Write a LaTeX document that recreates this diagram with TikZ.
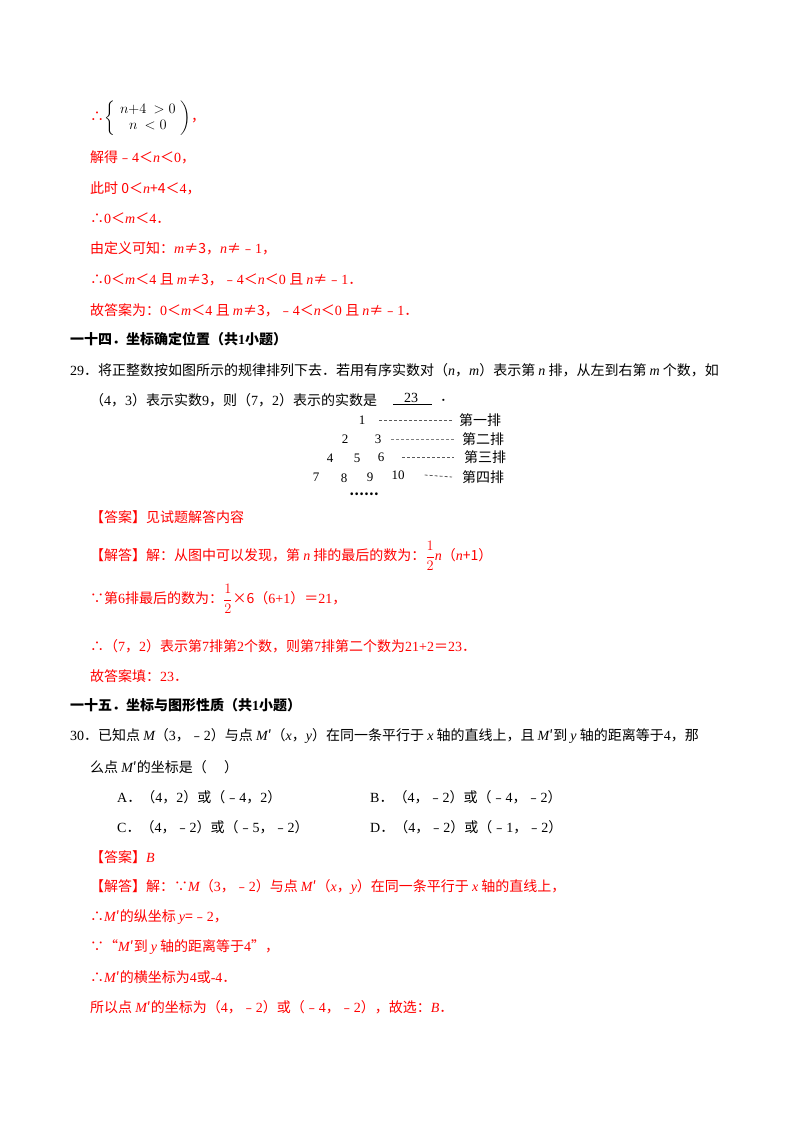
\documentclass[tikz,border=0pt]{standalone}
\usepackage{amsmath}
\usepackage{fontspec}
\setmainfont{Liberation Serif}
\newfontfamily\cjk{Noto Sans CJK SC}
\newfontfamily\lat{Liberation Serif}
\newcommand\iv[1]{{\lat\itshape #1}}
\XeTeXinterchartokenstate=1
\newXeTeXintercharclass\CJKcls
\def\setcls#1#2{\count255=#1 \loop\XeTeXcharclass\count255=\CJKcls\advance\count255 1 \ifnum\count255<#2 \repeat}
\setcls{"3000}{"3040}\setcls{"4E00}{"A000}\setcls{"FF00}{"FFF0}\setcls{"FE30}{"FE70}
\setcls{"2234}{"2236}\setcls{"2032}{"2033}\setcls{"201C}{"201E}\setcls{"2026}{"2027}
\XeTeXinterchartoks 0 \CJKcls = {\cjk}
\XeTeXinterchartoks 4095 \CJKcls = {\cjk}
\XeTeXinterchartoks \CJKcls 0 = {\lat}
\definecolor{rd}{RGB}{255,0,0}
\begin{document}
\begin{tikzpicture}[x=1pt,y=-1pt,
  t/.style={anchor=west,inner sep=0pt,font=\fontsize{14}{16}\selectfont},
  r/.style={t,text=rd},
  h/.style={t,font=\fontsize{14}{16}\selectfont\bfseries},
  fg/.style={inner sep=0pt,font=\fontsize{13}{15}\selectfont},
  fl/.style={anchor=west,inner sep=0pt,font=\fontsize{14}{15}\selectfont\cjk},
  ds/.style={dash pattern=on 3pt off 2pt,gray!70!black,line width=0.8pt}]
\useasboundingbox[fill=white] (0,0) rectangle (800,1132);
\node[r] (l1) at (90,118) {∴\textcolor{black}{$\left\{\begin{array}{c}n{+}4\ >0\\ n\ <0\end{array}\right)$}，};
\node[r] (l2) at (90,157) {解得﹣4＜\iv{n}＜0，};
\node[r] (l3) at (90,188) {此时 0＜\iv{n}+4＜4，};
\node[r] (l4) at (90,218) {∴0＜\iv{m}＜4．};
\node[r] (l5) at (90,248) {由定义可知：\iv{m}≠3，\iv{n}≠﹣1，};
\node[r] (l6) at (90,280) {∴0＜\iv{m}＜4 且 \iv{m}≠3，﹣4＜\iv{n}＜0 且 \iv{n}≠﹣1．};
\node[r] (l7) at (90,310) {故答案为：0＜\iv{m}＜4 且 \iv{m}≠3，﹣4＜\iv{n}＜0 且 \iv{n}≠﹣1．};
\node[h] (s14) at (70,339) {一十四．坐标确定位置（共1小题）};
\node[t] (q29) at (70,370) {29．将正整数按如图所示的规律排列下去．若用有序实数对（\iv{n}，\iv{m}）表示第 \iv{n} 排，从左到右第 \iv{m} 个数，如};
\node[t] (q29b) at (90,400) {（4，3）表示实数9，则（7，2）表示的实数是};
\node[t] (ans) at (404,398) {23};
\coordinate (u1) at (393,404); \coordinate (u2) at (432,404);
\draw[line width=0.6pt] (u1) -- (u2);
\node[t] (dot) at (440,400) {．};
% figure
\node[fg] (n1) at (362,420) {1};
\node[fg] (n2) at (345,439) {2}; \node[fg] (n3) at (378,439) {3};
\node[fg] (n4) at (330,458) {4}; \node[fg] (n5) at (357,458) {5}; \node[fg] (n6) at (381,457) {6};
\node[fg] (n7) at (316,477) {7}; \node[fg] (n8) at (344,478) {8}; \node[fg] (n9) at (370,477) {9}; \node[fg] (n10) at (398,475) {10};
\node[fg] (nd) at (364,494) {\textbf{…}\textbf{…}};
\node[fl] (r1) at (459,420) {第一排};
\node[fl] (r2) at (462,439) {第二排};
\node[fl] (r3) at (464,457) {第三排};
\node[fl] (r4) at (462,477) {第四排};
\draw[ds] ([xshift=14pt]n1.east) -- ([xshift=-6pt]r1.west);
\draw[ds,gray] ([xshift=10pt]n3.east) -- ([xshift=-6pt]r2.west);
\draw[ds] ([xshift=18pt]n6.east) -- ([xshift=-10pt]r3.west);
\draw[ds] ([xshift=20pt]n10.east) -- ([xshift=-10pt]r4.west);
\node[r] (a29) at (90,517) {【答案】见试题解答内容};
\node[r] (b29) at (90,556) {【解答】解：从图中可以发现，第 \iv{n} 排的最后的数为：$\dfrac{1}{2}$\iv{n}（\iv{n}+1）};
\node[r] (c29) at (90,599) {∵第6排最后的数为：$\dfrac{1}{2}$×6（6+1）＝21，};
\node[r] (d29) at (90,646) {∴（7，2）表示第7排第2个数，则第7排第二个数为21+2＝23．};
\node[r] (e29) at (90,676) {故答案填：23．};
\node[h] (s15) at (70,705) {一十五．坐标与图形性质（共1小题）};
\node[t] (q30) at (70,736) {30．已知点 \iv{M}（3，﹣2）与点 \iv{M}′（\iv{x}，\iv{y}）在同一条平行于 \iv{x} 轴的直线上，且 \iv{M}′到 \iv{y} 轴的距离等于4，那};
\node[t] (q30b) at (90,767) {么点 \iv{M}′的坐标是（\quad\ ）};
\node[t] (oA) at (117,797) {A．（4，2）或（﹣4，2）};
\node[t] (oB) at (370,797) {B．（4，﹣2）或（﹣4，﹣2）};
\node[t] (oC) at (117,827) {C．（4，﹣2）或（﹣5，﹣2）};
\node[t] (oD) at (370,827) {D．（4，﹣2）或（﹣1，﹣2）};
\node[r] (a30) at (90,857) {【答案】\iv{B}};
\node[r] (b30) at (90,887) {【解答】解：∵\iv{M}（3，﹣2）与点 \iv{M}′（\iv{x}，\iv{y}）在同一条平行于 \iv{x} 轴的直线上，};
\node[r] (c30) at (90,917) {∴\iv{M}′的纵坐标 \iv{y}=﹣2，};
\node[r] (d30) at (90,947) {∵“\iv{M}′到 \iv{y} 轴的距离等于4”，};
\node[r] (e30) at (90,977) {∴\iv{M}′的横坐标为4或-4．};
\node[r] (f30) at (90,1007) {所以点 \iv{M}′的坐标为（4，﹣2）或（﹣4，﹣2），故选：\iv{B}．};
\end{tikzpicture}
\end{document}
